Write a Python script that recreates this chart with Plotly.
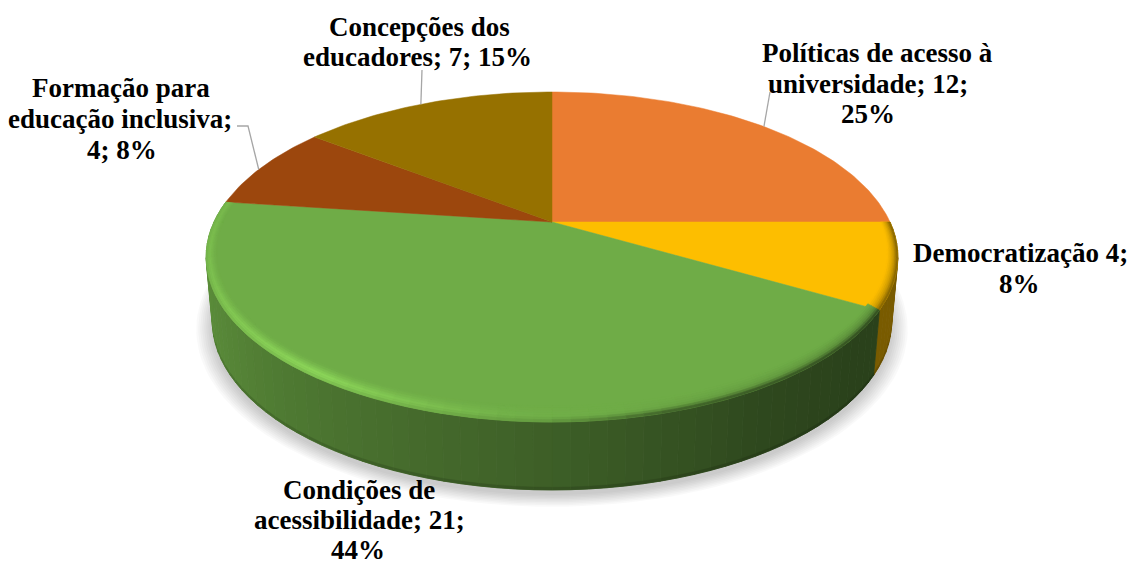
import numpy as np
import plotly.graph_objects as go

# Survey categories in clockwise order from twelve o'clock
categories = ["Políticas de acesso à universidade", "Democratização",
              "Condições de acessibilidade", "Formação para educação inclusiva",
              "Concepções dos educadores"]
values = [12, 4, 21, 4, 7]
percent_labels = ["25%", "8%", "44%", "8%", "15%"]
slice_colors = ["#ea7c31", "#fdbe00", "#6fac47", "#9c470d", "#967100"]

# Label lines with their centre x and the vertical centre of each line
label_lines = [
    ("Políticas de acesso à", 877, 53), ("universidade; 12;", 868, 84), ("25%", 868, 114),
    ("Democratização 4;", 1020, 253), ("8%", 1019, 284),
    ("Condições de", 359, 490), ("acessibilidade; 21;", 359, 520), ("44%", 358, 550),
    ("Formação para", 121, 88), ("educação inclusiva;", 120, 119), ("4; 8%", 122, 150),
    ("Concepções dos", 419, 27), ("educadores; 7; 15%", 417, 57),
]

# Perspective disc: centre, half extents and foreshortening of each face
CX = 552
TOP = dict(cy=222, a=157.6, b=338, k=0.212)
BOTTOM = dict(cy=285, a=161.5, b=332, k=0.212)


def project(theta, face, sx=1.0, sy=1.0):
    """Map clockwise degrees from north onto a face of the tilted disc."""
    t = np.radians(theta)
    x, y = np.sin(t) * sx, np.cos(t) * sy
    d = 1 + face["k"] * y
    return CX + face["b"] * x / d, face["cy"] - face["a"] * y / d


def to_rgb(c):
    return tuple(int(c[i:i + 2], 16) for i in (1, 3, 5))


def mix(a, b, f):
    return tuple(a[i] + (b[i] - a[i]) * f for i in range(3))


def css(c):
    return "rgb(%d,%d,%d)" % tuple(round(v) for v in c)


total = sum(values)
edges = np.concatenate([[0], np.cumsum(values)]) / total * 360


def slice_at(theta):
    return min(int(np.searchsorted(edges, theta, side="right")) - 1, len(values) - 1)


def add_poly(fig, xs, ys, color, lw=0.8):
    fig.add_trace(go.Scatter(x=list(xs) + [xs[0]], y=list(ys) + [ys[0]], mode="lines", fill="toself",
                             fillcolor=color, line=dict(color=color, width=lw),
                             hoverinfo="skip", showlegend=False))


fig = go.Figure()

# Soft cast shadow below the disc
for grow in np.linspace(1.045, 1.0, 9):
    th = np.linspace(0, 360, 181)
    px, py = project(th, BOTTOM, grow, grow)
    fig.add_trace(go.Scatter(x=px, y=py + 5, mode="lines", fill="toself",
                             fillcolor="rgba(0,0,0,0.022)", line=dict(width=0),
                             hoverinfo="skip", showlegend=False))


def side_shade(theta, idx):
    if idx == 2:
        return np.interp(theta, [120, 130, 150, 180, 210, 240, 277], [.38, .38, .42, .55, .66, .78, .88])
    return 0.48


# Outer wall, drawn in short facets from the back round to the front seam
STEP = 2.5
right = np.arange(90, 180, STEP)
left = np.arange(277.5 - STEP, 180 - STEP / 2, -STEP)
for th0 in list(right) + list(left):
    th1 = th0 + STEP
    mid = th0 + STEP / 2
    idx = slice_at(mid)
    col = mix((0, 0, 0), to_rgb(slice_colors[idx]), side_shade(mid, idx))
    x0, y0 = project(th0, TOP)
    x1, y1 = project(th1, TOP)
    x2, y2 = project(th1, BOTTOM)
    x3, y3 = project(th0, BOTTOM)
    add_poly(fig, [x0, x1, x2, x3], [y0, y1, y2, y3], css(col))
    # slightly darker seam along the lower edge
    fx = [x2 + (x1 - x2) * .04, x2, x3, x3 + (x0 - x3) * .04]
    fy = [y2 + (y1 - y2) * .04, y2, y3, y3 + (y0 - y3) * .04]
    add_poly(fig, fx, fy, css(mix(col, (0, 0, 0), .14)), lw=0.4)

# Flat top face, one wedge per category
for i, color in enumerate(slice_colors):
    th = np.linspace(edges[i], edges[i + 1], max(int(edges[i + 1] - edges[i]), 2) + 1)
    px, py = project(th, TOP)
    fig.add_trace(go.Scatter(x=[CX, *px, CX], y=[TOP["cy"], *py, TOP["cy"]], mode="lines",
                             fill="toself", fillcolor=color, line=dict(color=color, width=0.5),
                             name=categories[i], text=f"{values[i]}; {percent_labels[i]}",
                             hoverinfo="name+text", showlegend=False))


def glow(theta):
    return np.interp(theta, [90, 120, 165, 185, 215, 250, 277], [-.25, -.22, -.04, .08, .6, .3, .2])


# Rounded bevel along the visible part of the rim
RINGS = 7
for j in range(RINGS):
    t0, t1 = j / RINGS, (j + 1) / RINGS
    tm = (t0 + t1) / 2
    for th0 in np.arange(90, 277.5, STEP):
        th1 = min(th0 + STEP, 277.5)
        mid = (th0 + th1) / 2
        idx = slice_at(mid)
        base = to_rgb(slice_colors[idx])
        g = glow(mid)
        hi = mix(base, (165, 250, 105), g) if g > 0 else mix(base, (0, 0, 0), -g)
        wall = mix((0, 0, 0), base, side_shade(mid, idx))
        w = np.clip((0.1 - g) / 0.14, 0.3, 1)
        col = mix(base, hi, min(tm / .7, 1) ** 1.4)
        col = mix(col, wall, w * np.clip((tm - .6) / .4, 0, 1) ** 1.5)
        sx0, sy0 = 1 - .028 * (1 - t0), 1 - .065 * (1 - t0)
        sx1, sy1 = 1 - .028 * (1 - t1), 1 - .065 * (1 - t1)
        xa, ya = project(th0, TOP, sx0, sy0)
        xb, yb = project(th1, TOP, sx0, sy0)
        xc, yc = project(th1, TOP, sx1, sy1)
        xd, yd = project(th0, TOP, sx1, sy1)
        add_poly(fig, [xa, xb, xc, xd], [ya, yb, yc, yd], css(col), lw=0.6)


def mid_angle(i):
    return (edges[i] + edges[i + 1]) / 2


# Leader lines from the labels to the rim near each slice's midpoint
LEADER = "#a6a6a6"
leaders = {0: ([(770, 92)], 1.0), 3: ([(237, 126), (248, 126)], -1.5), 4: ([(422, 70)], -1.2)}
for i, (knee, nudge) in leaders.items():
    ex, ey = project(mid_angle(i) + nudge, TOP)
    xs = [k[0] for k in knee] + [float(ex)]
    ys = [k[1] for k in knee] + [float(ey)]
    fig.add_trace(go.Scatter(x=xs, y=ys, mode="lines", line=dict(color=LEADER, width=1.3),
                             hoverinfo="skip", showlegend=False))

for text, lx, ly in label_lines:
    fig.add_annotation(x=lx, y=ly, xref="x", yref="y", text=f"<b>{text}</b>", showarrow=False,
                       align="center", xanchor="center", yanchor="middle",
                       font=dict(family="Liberation Serif", size=27, color="#000000"))

fig.update_layout(width=1131, height=567, margin=dict(l=0, r=0, t=0, b=0),
                  paper_bgcolor="white", plot_bgcolor="white", showlegend=False,
                  xaxis=dict(range=[0, 1131], visible=False, fixedrange=True),
                  yaxis=dict(range=[567, 0], visible=False, fixedrange=True))
fig.write_html("out.html", config=dict(displayModeBar=False))
